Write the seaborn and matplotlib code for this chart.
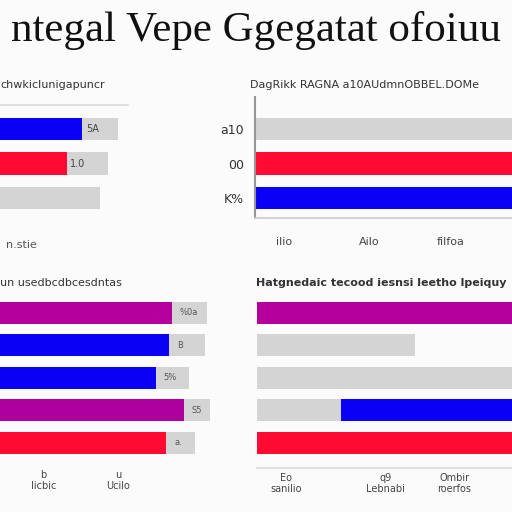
import matplotlib
matplotlib.use("Agg")
import matplotlib.pyplot as plt
import seaborn as sns

# top-left panel
tl_cats = ["a", "b", "c"]
tl_values = [64, 52, 0]
tl_totals = [92, 84, 78]
tl_colors = ["#0a00f5", "#ff0a33", "#d4d4d4"]
tl_labels = ["5A", "1.0", ""]

# top-right panel
tr_cats = ["a10", "00", "K%"]
tr_values = [100, 100, 100]
tr_colors = ["#d4d4d4", "#ff0a33", "#0a00f5"]
tr_ticks = [11, 43, 74]
tr_ticklabels = ["ilio", "Ailo", "filfoa"]

# bottom-left panel
bl_cats = ["p", "q", "r", "s", "t"]
bl_values = [67, 66, 61, 72, 65]
bl_totals = [81, 80, 74, 82, 76]
bl_colors = ["#b5009b", "#0a00f5", "#0a00f5", "#ad009e", "#ff0a33"]
bl_labels = ["%0a", "B", "5%", "S5", "a."]
bl_ticks = [17, 46]
bl_ticklabels = ["b\nIicbic", "u\nUcilo"]

# bottom-right panel
br_cats = ["p", "q", "r", "s", "t"]
br_values = [100, 0, 0, 100, 100]
br_grey = [0, 60, 100, 32, 0]
br_colors = ["#b5009b", "#d4d4d4", "#d4d4d4", "#0a00f5", "#ff0a33"]
br_ticks = [11, 49, 75]
br_ticklabels = ["Eo\nsanilio", "q9\nLebnabi", "Ombir\nroerfos"]

GREY = "#d4d4d4"
sns.set_theme(style="white")
fig = plt.figure(figsize=(5.12, 5.12), dpi=100, facecolor="#fbfbfb")
bar_kw = dict(saturation=1, linewidth=0, legend=False)


def px_axes(left, top, width, height):
    return fig.add_axes([left / 512, 1 - (top + height) / 512, width / 512, height / 512])


def clean(ax):
    ax.set_facecolor("#fbfbfb")
    for s in ax.spines.values():
        s.set_visible(False)
    ax.set_xlabel("")
    ax.set_ylabel("")


# top-left
ax1 = px_axes(0, 105, 128, 110.5)
sns.barplot(x=tl_totals, y=tl_cats, color=GREY, width=0.65, ax=ax1, **bar_kw)
sns.barplot(x=tl_values, y=tl_cats, hue=tl_cats, palette=tl_colors, width=0.65, ax=ax1, **bar_kw)
clean(ax1)
ax1.set_xlim(0, 100)
ax1.set_ylim(2.5, -0.7)
ax1.spines["top"].set_visible(True)
ax1.spines["top"].set_color("#dddddd")
ax1.set_yticks([])
ax1.set_xticks([17])
ax1.set_xticklabels(["n.stie"], fontsize=8, color="#555555")
ax1.tick_params(axis="x", length=0, pad=18)
for i, (v, lab) in enumerate(zip(tl_values, tl_labels)):
    ax1.text(v + 3, i, lab, va="center", fontsize=7, color="#444444")

# top-right
ax2 = px_axes(255, 97, 265, 121)
sns.barplot(x=tr_values, y=tr_cats, hue=tr_cats, palette=tr_colors, width=0.65, ax=ax2, **bar_kw)
clean(ax2)
ax2.set_xlim(0, 100)
ax2.set_ylim(2.58, -0.93)
ax2.spines["left"].set_visible(True)
ax2.spines["left"].set_color("#999999")
ax2.spines["left"].set_linewidth(1.5)
ax2.spines["bottom"].set_visible(True)
ax2.spines["bottom"].set_color("#cccccc")
ax2.set_xticks(tr_ticks)
ax2.set_xticklabels(tr_ticklabels, fontsize=8, color="#444444")
ax2.tick_params(axis="x", length=4, color="#cccccc", pad=10)
ax2.tick_params(axis="y", length=0, pad=8, labelsize=9, labelcolor="#333333")

# bottom-left
ax3 = px_axes(0, 296.8, 256, 161.9)
sns.barplot(x=bl_totals, y=bl_cats, color=GREY, width=0.68, ax=ax3, **bar_kw)
sns.barplot(x=bl_values, y=bl_cats, hue=bl_cats, palette=bl_colors, width=0.68, ax=ax3, **bar_kw)
clean(ax3)
ax3.set_xlim(0, 100)
ax3.set_yticks([])
ax3.set_xticks(bl_ticks)
ax3.set_xticklabels(bl_ticklabels, fontsize=7, color="#444444")
ax3.tick_params(axis="x", length=0, pad=8)
for i, (v, lab) in enumerate(zip(bl_values, bl_labels)):
    ax3.text(v + 3, i, lab, va="center", fontsize=6, color="#555555")

# bottom-right
ax4 = px_axes(257, 296.8, 263, 161.9)
sns.barplot(x=br_values, y=br_cats, hue=br_cats, palette=br_colors, width=0.68, ax=ax4, **bar_kw)
sns.barplot(x=br_grey, y=br_cats, color=GREY, width=0.68, ax=ax4, **bar_kw)
clean(ax4)
ax4.set_xlim(0, 100)
ax4.set_yticks([])
ax4.spines["bottom"].set_visible(True)
ax4.spines["bottom"].set_color("#dddddd")
ax4.spines["bottom"].set_position(("outward", 7))
ax4.set_xticks(br_ticks)
ax4.set_xticklabels(br_ticklabels, fontsize=7, color="#444444")
ax4.tick_params(axis="x", length=0, pad=3)

# titles
fig.text(0.5, 1 - 31 / 512, "ntegal Vepe Ggegatat ofoiuu", ha="center", va="center",
         fontsize=31, family="Liberation Serif", color="#111111")
fig.text(0, 1 - 85 / 512, "chwkiclunigapuncr", fontsize=8, color="#333333", va="center")
fig.text(250 / 512, 1 - 85 / 512, "DagRikk RAGNA a10AUdmnOBBEL.DOMe", fontsize=8,
         color="#333333", va="center")
fig.text(0, 1 - 283 / 512, "un usedbcdbcesdntas", fontsize=8, color="#333333", va="center")
fig.text(256 / 512, 1 - 283 / 512, "Hatgnedaic tecood iesnsi leetho lpeiquy", fontsize=8,
         color="#333333", va="center", fontweight="bold")

fig.savefig("out.png", dpi=100, facecolor=fig.get_facecolor())
